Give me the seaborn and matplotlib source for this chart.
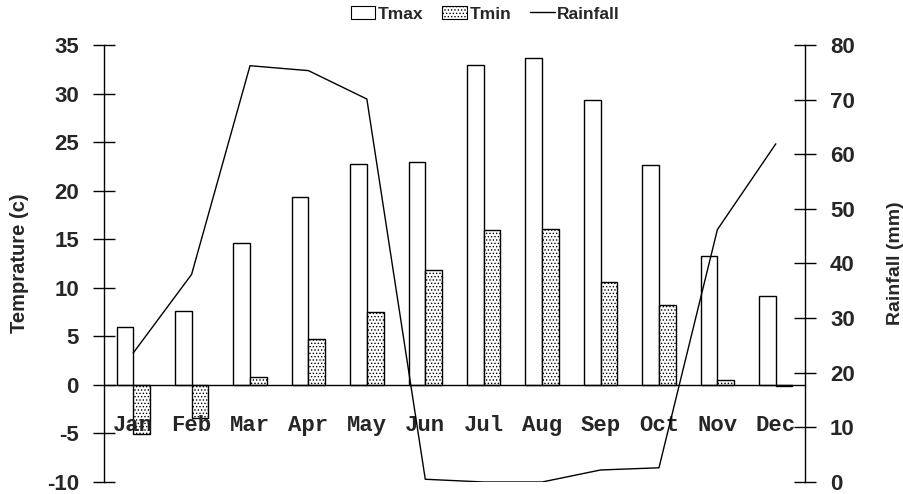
import numpy as np
import pandas as pd
import matplotlib
matplotlib.use("Agg")
import matplotlib.pyplot as plt
from matplotlib.patches import Patch
from matplotlib.lines import Line2D
import seaborn as sns

months = ["Jan", "Feb", "Mar", "Apr", "May", "Jun",
          "Jul", "Aug", "Sep", "Oct", "Nov", "Dec"]
tmax = [6.0, 7.6, 14.6, 19.3, 22.7, 22.9, 32.9, 33.7, 29.3, 22.6, 13.3, 9.2]
tmin = [-5.1, -3.4, 0.8, 4.7, 7.5, 11.8, 15.9, 16.1, 10.6, 8.2, 0.5, -0.1]
rainfall = [23.6, 38.0, 76.2, 75.3, 70.1, 0.5, 0.0, 0.0, 2.2, 2.6, 46.2, 61.9]

sns.set_style("white")
plt.rcParams["font.family"] = ["Liberation Sans", "DejaVu Sans"]
plt.rcParams["hatch.linewidth"] = 0.6
plt.rcParams["axes.unicode_minus"] = False

# long format for seaborn barplot
df = pd.DataFrame({"month": months, "Tmax": tmax, "Tmin": tmin})
long_df = df.melt(id_vars="month", var_name="series", value_name="temp")

fig = plt.figure(figsize=(9.04, 4.94), dpi=100)
ax = fig.add_axes([0.115, 0.0243, 0.7755, 0.8847])

sns.barplot(
    data=long_df, x="month", y="temp", hue="series",
    palette=["white", "white"], edgecolor="black", linewidth=1.0,
    width=0.57, gap=0, legend=False, ax=ax,
)
for bar in ax.containers[1]:
    bar.set_hatch(".....")
ax.set_axisbelow(False)  # month labels drawn over the bars

ax.set_xlim(-0.5, 11.5)
ax.set_ylim(-10, 35)
ax.set_yticks(np.arange(-10, 36, 5))

# x axis sits on zero, tick marks at the category boundaries
ax.spines["bottom"].set_position(("data", 0))
ax.spines["top"].set_visible(False)
ax.spines["right"].set_visible(False)
for s in ["left", "bottom"]:
    ax.spines[s].set_color("black")
    ax.spines[s].set_linewidth(1.0)

ax.set_xticks(np.arange(12))
ax.set_xticklabels(months, fontfamily="Liberation Mono", fontweight="bold", fontsize=16)
ax.tick_params(axis="x", which="major", length=0, pad=22)
ax.set_xticks(np.arange(-0.5, 12, 1), minor=True)
ax.tick_params(axis="x", which="minor", length=12, direction="inout", color="black", width=1)
ax.tick_params(axis="y", length=16, direction="inout", color="black", width=1,
               labelsize=16, pad=10)
for lab in ax.get_yticklabels():
    lab.set_fontweight("bold")
ax.set_xlabel("")
ax.set_ylabel("Temprature (c)", fontsize=14.5, fontweight="bold", labelpad=13)

# rainfall on the secondary axis
ax2 = ax.twinx()
sns.lineplot(x=np.arange(12), y=rainfall, color="black", linewidth=1.0, ax=ax2)
ax2.set_ylim(0, 80)
ax2.set_yticks(np.arange(0, 81, 10))
for s in ["top", "bottom", "left"]:
    ax2.spines[s].set_visible(False)
ax2.spines["right"].set_color("black")
ax2.spines["right"].set_linewidth(1.0)
ax2.tick_params(axis="y", length=16, direction="inout", color="black", width=1,
                labelsize=16, pad=10)
for lab in ax2.get_yticklabels():
    lab.set_fontweight("bold")
ax2.set_ylabel("Rainfall (mm)", fontsize=14, fontweight="bold", labelpad=23)

handles = [
    Patch(facecolor="white", edgecolor="black", linewidth=0.8, label="Tmax"),
    Patch(facecolor="white", edgecolor="black", linewidth=0.8, hatch=".....", label="Tmin"),
    Line2D([], [], color="black", linewidth=1.0, label="Rainfall"),
]
fig.legend(
    handles=handles, loc="center", bbox_to_anchor=(0.537, 0.972), ncol=3,
    frameon=False, prop={"weight": "bold", "size": 12.5},
    handlelength=1.4, handleheight=0.75, handletextpad=0.15, columnspacing=1.1,
)

fig.savefig("out.png", dpi=100)
